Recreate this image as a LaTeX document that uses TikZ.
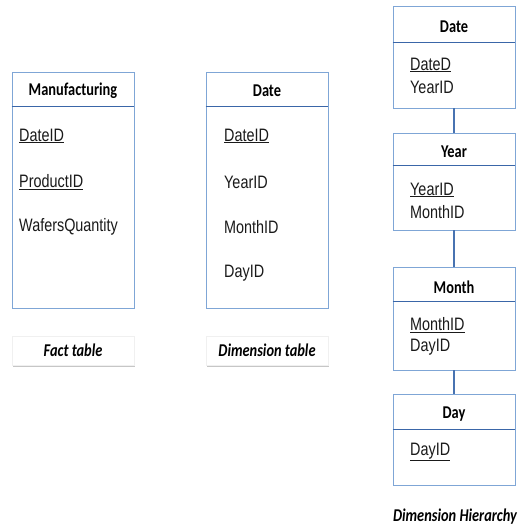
\documentclass[tikz,border=0pt]{standalone}
\usepackage{fontspec}
\setmainfont{Liberation Sans}
\newfontfamily\fldfont[FakeStretch=0.8]{Liberation Sans}
\newfontfamily\carlito[FakeStretch=0.8]{Carlito}
\definecolor{boxblue}{HTML}{7FA6D6}
\definecolor{hdrblue}{HTML}{3A66A8}
\definecolor{txt}{HTML}{1A1A1A}
\begin{document}
\begin{tikzpicture}[x=1pt,y=-1pt]
\tikzset{
  tbl/.style={draw=boxblue, line width=0.9pt, fill=white, rectangle, minimum width=122pt, inner sep=0pt},
  hline/.style={draw=hdrblue, line width=1.6pt},
  conn/.style={draw=hdrblue!80!boxblue, line width=1.5pt},
  hdr/.style={font=\carlito\bfseries\fontsize{18}{20}\selectfont, text=black, inner sep=0pt},
  fld/.style={font=\fldfont\fontsize{18}{20}\selectfont, text=txt, anchor=west, inner sep=0pt},
  lbl/.style={draw=gray!12, fill=white, rectangle, minimum width=122pt, minimum height=29pt, inner sep=0pt,
    font=\carlito\bfseries\itshape\fontsize{18}{20}\selectfont, text=black},
  shadowbox/.style={fill=gray!45, draw=none, rectangle, minimum width=122pt, minimum height=29pt}
}
\useasboundingbox (0,0) rectangle (528,528);

% ---- Fact table ----
\node[tbl, minimum height=236pt] (man) at (73,190) {};
\draw[hline] ([yshift=-35pt]man.north west) -- ([yshift=-35pt]man.north east);
\node[hdr] (manh) at (73,91) {Manufacturing};
\node[fld] (m1) at (19,136) {\underline{DateID}};
\node[fld] (m2) at (19,182) {\underline{ProductID}};
\node[fld] (m3) at (19,227) {WafersQuantity};
\node[shadowbox] (fsh) at (74,352.5) {};
\node[lbl] (flbl) at (73,350.5) {Fact table};

% ---- Dimension table ----
\node[tbl, minimum height=236pt] (dt) at (267,190) {};
\draw[hline] ([yshift=-35pt]dt.north west) -- ([yshift=-35pt]dt.north east);
\node[hdr] (dth) at (267,91) {Date};
\node[fld] (d1) at (224,136) {\underline{DateID}};
\node[fld] (d2) at (224,182) {YearID};
\node[fld] (d3) at (224,227) {MonthID};
\node[fld] (d4) at (224,273) {DayID};
\node[shadowbox] (dsh) at (268,352.5) {};
\node[lbl] (dlbl) at (267,350.5) {Dimension table};

% ---- Hierarchy ----
\node[tbl, minimum height=102pt] (hd) at (454,57) {};
\node[tbl, minimum height=97pt] (hy) at (454,181.5) {};
\node[tbl, minimum height=103pt] (hm) at (454,318.5) {};
\node[tbl, minimum height=91pt] (hda) at (454,439.5) {};

\draw[conn] (hd.south) -- (hy.north);
\draw[conn] (hy.south) -- (hm.north);
\draw[conn] (hm.south) -- (hda.north);

\draw[hline] ([yshift=-37pt]hd.north west) -- ([yshift=-37pt]hd.north east);
\draw[hline] ([yshift=-33pt]hy.north west) -- ([yshift=-33pt]hy.north east);
\draw[hline] ([yshift=-35pt]hm.north west) -- ([yshift=-35pt]hm.north east);
\draw[hline] ([yshift=-36pt]hda.north west) -- ([yshift=-36pt]hda.north east);

\node[hdr] (hdh) at (454,27) {Date};
\node[fld] (hd1) at (410,65) {\underline{DateD}};
\node[fld] (hd2) at (410,87) {YearID};

\node[hdr] (hyh) at (454,152) {Year};
\node[fld] (hy1) at (410,190) {\underline{YearID}};
\node[fld] (hy2) at (410,212) {MonthID};

\node[hdr] (hmh) at (454,287) {Month};
\node[fld] (hm1) at (410,325) {\underline{MonthID}};
\node[fld] (hm2) at (410,347) {DayID};

\node[hdr] (hdah) at (454,414) {Day};
\node[fld] (hda1) at (410,452) {\underline{DayID}};

\node[font=\carlito\bfseries\itshape\fontsize{18}{20}\selectfont, text=black, inner sep=0pt] (hlbl) at (455,517) {Dimension Hierarchy};
\end{tikzpicture}
\end{document}
